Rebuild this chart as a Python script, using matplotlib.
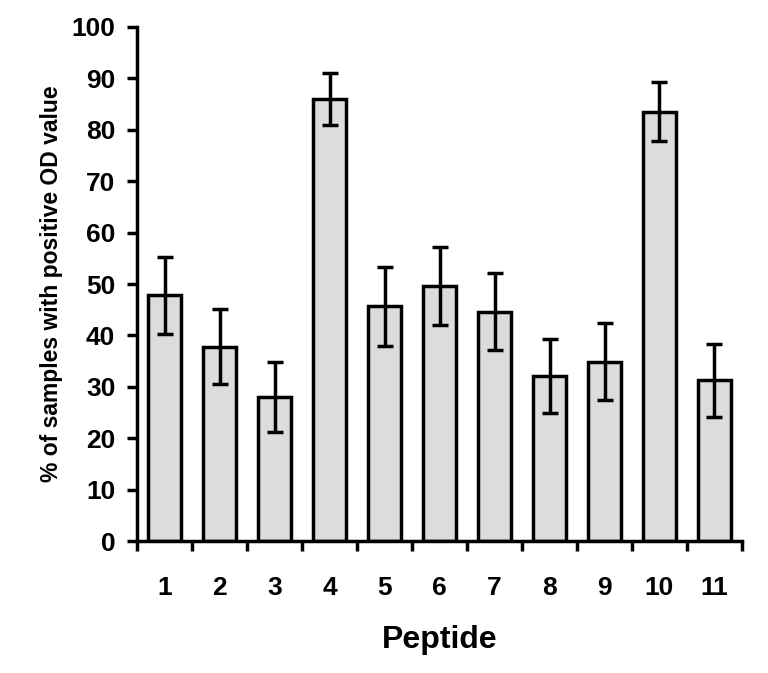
import numpy as np
import matplotlib
matplotlib.use('Agg')
import matplotlib.pyplot as plt

# Data
peptides = ['1', '2', '3', '4', '5', '6', '7', '8', '9', '10', '11']
percent_positive = [47.8, 37.8, 28.1, 86.0, 45.7, 49.6, 44.6, 32.1, 34.9, 83.5, 31.3]
error = [7.5, 7.3, 6.8, 5.0, 7.7, 7.5, 7.5, 7.2, 7.5, 5.7, 7.1]

plt.rcParams['font.family'] = ['Liberation Sans', 'DejaVu Sans']
plt.rcParams['font.weight'] = 'bold'

fig = plt.figure(figsize=(7.68, 6.73), dpi=100)
ax = fig.add_axes([0.179, 0.196, 0.787, 0.764])

x = np.arange(len(peptides))
ax.bar(x, percent_positive, width=0.6, color='#dcdcdc', edgecolor='black',
       linewidth=2.5, yerr=error, capsize=5.5,
       error_kw={'elinewidth': 2.5, 'capthick': 2.5, 'ecolor': 'black'})

ax.set_xlim(-0.5, len(peptides) - 0.5)
ax.set_ylim(0, 100)
ax.set_yticks(np.arange(0, 101, 10))

# labels at bar centres, ticks at the boundaries
ax.set_xticks(x)
ax.set_xticklabels(peptides)
ax.set_xticks(np.arange(-0.5, len(peptides)), minor=True)
ax.tick_params(axis='x', which='major', length=0, pad=25, labelsize=19)
ax.tick_params(axis='x', which='minor', length=7, width=2.5, direction='out')
ax.tick_params(axis='y', length=7, width=2.5, direction='out', labelsize=19, pad=9)

for s in ['top', 'right']:
    ax.spines[s].set_visible(False)
for s in ['left', 'bottom']:
    ax.spines[s].set_linewidth(2.5)

ax.set_xlabel('Peptide', fontsize=23, fontweight='bold', labelpad=18)
ax.set_ylabel('% of samples with positive OD value', fontsize=16.5, fontweight='bold', labelpad=6)

fig.savefig('out.png', dpi=100)
